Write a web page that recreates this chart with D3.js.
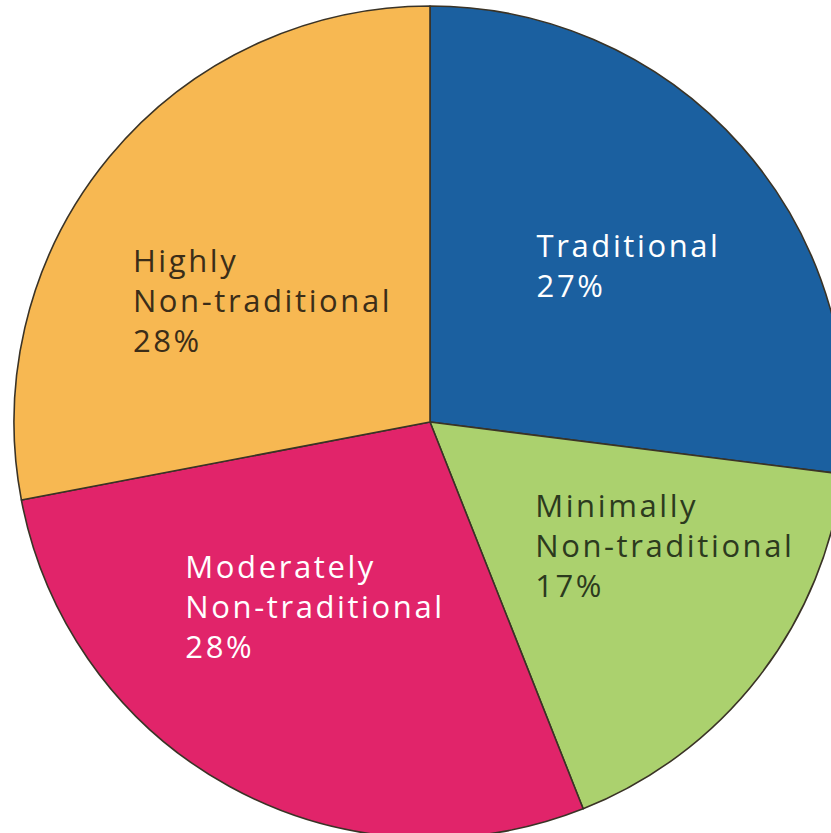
<!DOCTYPE html>
<html>
<head>
<meta charset="utf-8">
<script src="https://cdn.jsdelivr.net/npm/d3@7"></script>
<style>
  html, body { margin: 0; padding: 0; background: #ffffff; }
  svg { display: block; }
</style>
</head>
<body>
<svg id="chart" width="831" height="833"></svg>
<script>
// ---- data ----
const categories = ["Traditional", "Minimally Non-traditional", "Moderately Non-traditional", "Highly Non-traditional"];
const labelLines = [["Traditional"], ["Minimally", "Non-traditional"], ["Moderately", "Non-traditional"], ["Highly", "Non-traditional"]];
const values = [27, 17, 28, 28];
const colors = ["#1b60a0", "#abd16e", "#e1246a", "#f7b852"];
const textColors = ["#ffffff", "#2c3a1e", "#ffffff", "#3b2d18"];

// ---- layout (not data) ----
const W = 831, H = 833;
const cx = 430, cy = 422, R = 416;
// label block centre placement: [angle in degrees from 12 o'clock, distance from centre]
const labelPlace = [[51.7, 253], [117.6, 265], [212, 217], [306, 207]];

const svg = d3.select("#chart");
const g = svg.append("g").attr("transform", `translate(${cx},${cy})`);

const pie = d3.pie().sort(null).value(d => d.value);
const arc = d3.arc().innerRadius(0).outerRadius(R);
const data = categories.map((c, i) => ({ name: c, value: values[i], i }));
const arcs = pie(data);

g.selectAll("path.slice")
  .data(arcs)
  .enter().append("path")
  .attr("class", "slice")
  .attr("d", arc)
  .attr("fill", d => colors[d.data.i])
  .attr("stroke", "#3a3326")
  .attr("stroke-width", 1.6)
  .attr("stroke-linejoin", "round");

const fontSize = 31, lineH = 40;
arcs.forEach(d => {
  const i = d.data.i;
  const lines = labelLines[i].concat([d3.format(".0f")(d.data.value) + "%"]);
  const [angDeg, dist] = labelPlace[i];
  const a = angDeg * Math.PI / 180;
  const bx = Math.sin(a) * dist, by = -Math.cos(a) * dist;
  const t = g.append("text")
    .attr("font-family", "'Open Sans', 'Noto Sans', sans-serif")
    .attr("font-size", fontSize)
    .attr("font-weight", 500)
    .attr("letter-spacing", 2.6)
    .attr("fill", textColors[i]);
  lines.forEach((ln, k) => {
    t.append("tspan").attr("x", 0).attr("y", k * lineH).text(ln);
  });
  const bb = t.node().getBBox();
  t.attr("transform", `translate(${bx - bb.x - bb.width / 2},${by - bb.y - bb.height / 2})`);
});
</script>
</body>
</html>
